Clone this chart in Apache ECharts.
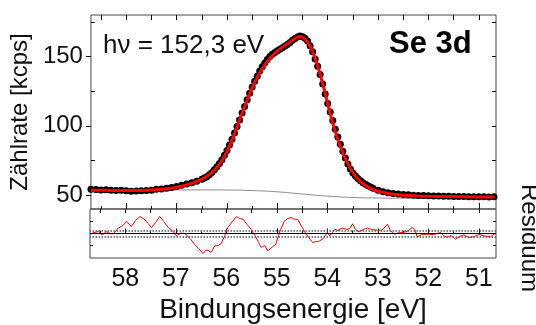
<!DOCTYPE html>
<html>
<head>
<meta charset="utf-8">
<script src="https://cdn.jsdelivr.net/npm/echarts@6/dist/echarts.min.js"></script>
<style>
  html, body { margin: 0; padding: 0; background: #fff; }
  #chart { width: 536px; height: 325px; }
</style>
</head>
<body>
<div id="chart"></div>
<script>
// measured spectrum (black dots)
const dataE = [58.70, 58.60, 58.50, 58.40, 58.30, 58.20, 58.10, 58.00, 57.90, 57.80, 57.70, 57.60, 57.50, 57.40, 57.30, 57.20, 57.10, 57.00, 56.90, 56.80, 56.70, 56.60, 56.50, 56.45, 56.40, 56.35, 56.30, 56.25, 56.20, 56.15, 56.10, 56.05, 56.00, 55.95, 55.90, 55.85, 55.80, 55.75, 55.70, 55.65, 55.60, 55.55, 55.50, 55.45, 55.40, 55.35, 55.30, 55.25, 55.20, 55.15, 55.10, 55.05, 55.00, 54.95, 54.90, 54.85, 54.80, 54.75, 54.70, 54.65, 54.60, 54.55, 54.50, 54.45, 54.40, 54.35, 54.30, 54.25, 54.20, 54.15, 54.10, 54.05, 54.00, 53.95, 53.90, 53.85, 53.80, 53.75, 53.70, 53.65, 53.60, 53.55, 53.50, 53.45, 53.40, 53.35, 53.30, 53.25, 53.20, 53.15, 53.10, 53.00, 52.90, 52.80, 52.70, 52.60, 52.50, 52.40, 52.30, 52.20, 52.10, 52.00, 51.90, 51.80, 51.70, 51.60, 51.50, 51.40, 51.30, 51.20, 51.10, 51.00, 50.90, 50.80, 50.70];
const dataCounts = [54.2, 54.0, 53.8, 53.9, 53.5, 53.4, 53.6, 53.1, 52.8, 53.0, 53.2, 53.3, 53.6, 54.2, 54.5, 55.0, 55.6, 56.3, 57.2, 58.0, 59.0, 60.0, 61.5, 62.4, 63.3, 64.8, 66.3, 68.3, 70.5, 72.8, 75.5, 78.8, 82.3, 86.2, 90.3, 94.8, 99.5, 104.3, 109.2, 114.0, 118.8, 123.5, 128.0, 132.2, 135.8, 139.5, 142.6, 145.4, 147.8, 150.0, 151.6, 153.0, 154.2, 155.2, 156.4, 157.6, 158.8, 160.2, 161.7, 163.0, 164.2, 164.8, 164.3, 163.2, 161.2, 157.8, 153.4, 148.2, 143.0, 137.0, 130.2, 123.0, 116.2, 110.0, 103.8, 97.6, 92.0, 86.8, 81.6, 76.8, 72.4, 68.8, 66.0, 63.8, 62.0, 60.4, 59.0, 57.8, 56.8, 55.8, 55.0, 53.6, 52.5, 51.8, 51.2, 50.8, 50.5, 50.2, 50.0, 49.8, 49.7, 49.5, 49.4, 49.3, 49.2, 49.2, 49.1, 49.0, 49.0, 48.9, 48.9, 48.8, 48.8, 48.7, 48.8];

// fit (red line)
const fitE = [58.70, 58.50, 58.30, 58.10, 57.90, 57.70, 57.50, 57.30, 57.10, 56.90, 56.70, 56.50, 56.40, 56.30, 56.20, 56.10, 56.00, 55.90, 55.80, 55.70, 55.60, 55.50, 55.40, 55.30, 55.20, 55.10, 55.00, 54.90, 54.80, 54.70, 54.60, 54.55, 54.50, 54.40, 54.30, 54.20, 54.10, 54.00, 53.90, 53.80, 53.70, 53.60, 53.50, 53.40, 53.30, 53.20, 53.10, 53.00, 52.80, 52.60, 52.40, 52.20, 52.00, 51.60, 51.20, 50.70];
const fitCounts = [53.6, 53.5, 53.4, 53.3, 53.3, 53.4, 53.7, 54.2, 55.0, 56.4, 58.5, 61.5, 63.6, 66.4, 70.0, 75.0, 81.6, 89.8, 99.2, 109.0, 118.6, 127.4, 135.0, 141.2, 146.4, 150.6, 154.0, 156.8, 159.2, 161.8, 164.0, 164.4, 163.8, 160.6, 153.6, 143.4, 130.4, 116.0, 102.0, 90.2, 80.6, 72.6, 66.2, 61.6, 58.2, 55.8, 54.0, 52.8, 51.2, 50.3, 49.7, 49.4, 49.2, 49.0, 48.8, 48.7];

// background (grey line)
const bgE = [58.70, 58.00, 57.00, 56.50, 56.00, 55.50, 55.00, 54.50, 54.00, 53.50, 53.00, 52.50, 51.50, 50.70];
const bgCounts = [53.6, 53.7, 53.8, 53.8, 53.7, 53.3, 52.4, 50.8, 49.3, 48.3, 47.9, 47.8, 47.7, 47.7];

// residual (lower panel)
const resE = [58.70, 58.62, 58.53, 58.48, 58.43, 58.38, 58.34, 58.29, 58.24, 58.14, 58.05, 57.97, 57.88, 57.80, 57.71, 57.61, 57.55, 57.48, 57.40, 57.32, 57.24, 57.15, 57.07, 56.99, 56.90, 56.82, 56.72, 56.63, 56.55, 56.46, 56.41, 56.36, 56.30, 56.23, 56.16, 56.10, 56.03, 55.97, 55.88, 55.80, 55.74, 55.67, 55.59, 55.51, 55.46, 55.41, 55.36, 55.31, 55.24, 55.18, 55.10, 55.02, 54.94, 54.85, 54.78, 54.72, 54.65, 54.59, 54.52, 54.46, 54.37, 54.29, 54.22, 54.16, 54.08, 54.00, 53.95, 53.90, 53.85, 53.80, 53.70, 53.60, 53.55, 53.50, 53.44, 53.37, 53.29, 53.21, 53.11, 53.01, 52.91, 52.81, 52.75, 52.68, 52.60, 52.52, 52.42, 52.32, 52.27, 52.22, 52.12, 52.02, 51.89, 51.76, 51.70, 51.63, 51.55, 51.46, 51.38, 51.30, 51.20, 51.10, 51.00, 50.90, 50.77, 50.68];
const resValues = [-0.7, 1.0, 2.0, -1.0, -0.5, 2.0, 1.0, -0.3, -0.3, 5.3, 8.0, 12.0, 7.0, 13.0, 17.0, 13.7, 10.0, 6.0, 11.0, 17.0, 12.0, 6.0, 3.0, -2.3, 0.5, 0.0, -5.0, -10.7, -15.0, -20.0, -17.0, -16.7, -19.0, -12.3, -12.0, -10.0, -2.0, 6.0, 12.0, 17.0, 15.0, 14.3, 9.0, 4.3, 0.0, -4.0, -9.0, -14.0, -12.0, -17.3, -14.0, -10.7, 2.0, 12.7, 15.0, 16.0, 14.3, 14.3, 8.0, 2.7, -4.0, -9.0, -8.0, -7.7, -5.0, 1.0, -2.3, 1.0, 4.3, 3.0, 5.3, 4.0, 5.3, 9.7, 4.0, 1.7, 4.0, 5.3, 4.0, 3.3, 3.5, 9.3, 3.0, -0.7, 0.5, 1.0, 2.0, 6.0, 4.0, -3.3, -1.0, -0.7, -1.0, 1.0, -2.0, -4.0, -2.0, -5.7, -3.0, -1.3, -4.0, -3.3, -1.0, -2.3, -3.3, 0.0];

// axis ticks
const energyMajor = [51, 52, 53, 54, 55, 56, 57, 58];
const energyMinor = [51.5, 52.5, 53.5, 54.5, 55.5, 56.5, 57.5, 58.5];
const countMajor = [50, 100, 150];
const countMinor = [75, 125, 175];
const resTicks = [-12, 0, 12];

const E_MIN = 50.66, E_MAX = 58.7;
const C_MIN = 40, C_MAX = 180;
const R_MIN = -24.5, R_MAX = 24.5;

const FONT = 'Liberation Sans';

function zip(xs, ys) {
  return xs.map((x, i) => [x, ys[i]]);
}

// axis that only draws ticks
function tickAxis(gridIndex, position, min, max, values, length, inverse) {
  return {
    type: 'value',
    gridIndex: gridIndex,
    position: position,
    offset: 0,
    min: min,
    max: max,
    inverse: !!inverse,
    axisLine: { show: false },
    splitLine: { show: false },
    axisLabel: { show: false },
    axisTick: {
      show: true,
      inside: length > 0,
      length: Math.abs(length),
      customValues: values,
      lineStyle: { color: '#111', width: 1 }
    }
  };
}

const chart = echarts.init(document.getElementById('chart'), null, { renderer: 'canvas' });

const xMain = tickAxis(0, 'bottom', E_MIN, E_MAX, energyMajor, 6, true);
const xRes = tickAxis(1, 'bottom', E_MIN, E_MAX, energyMajor, 5, true);
xRes.axisLabel = {
  show: true,
  customValues: energyMajor,
  margin: 9,
  fontFamily: FONT,
  fontSize: 25,
  color: '#111'
};
xRes.name = 'Bindungsenergie [eV]';
xRes.nameLocation = 'middle';
xRes.nameGap = 38;
xRes.nameTextStyle = { fontFamily: FONT, fontSize: 28, color: '#111' };

const yMain = tickAxis(0, 'left', C_MIN, C_MAX, countMajor, -5);
yMain.axisLabel = {
  show: true,
  customValues: countMajor,
  margin: 8,
  fontFamily: FONT,
  fontSize: 24,
  color: '#111'
};
yMain.name = 'Zählrate [kcps]';
yMain.nameLocation = 'middle';
yMain.nameGap = 52;
yMain.nameTextStyle = { fontFamily: FONT, fontSize: 24, color: '#111' };

const yRes = tickAxis(1, 'left', R_MIN, R_MAX, resTicks, 3);

const option = {
  animation: false,
  backgroundColor: '#fff',
  textStyle: { fontFamily: FONT },
  grid: [
    { left: 90, right: 40, top: 15, height: 194, show: true, borderColor: '#444', borderWidth: 1, backgroundColor: 'transparent' },
    { left: 90, right: 40, top: 209, height: 49, show: true, borderColor: '#444', borderWidth: 1, backgroundColor: 'transparent' }
  ],
  xAxis: [
    xMain,                                                                   // 0
    tickAxis(0, 'bottom', E_MIN, E_MAX, energyMinor, 3, true),               // 1
    tickAxis(0, 'top', E_MIN, E_MAX, energyMajor.concat(energyMinor), 5, true), // 2
    xRes,                                                                    // 3
    tickAxis(1, 'bottom', E_MIN, E_MAX, energyMinor, 3, true),               // 4
    tickAxis(1, 'top', E_MIN, E_MAX, energyMajor.concat(energyMinor), 4, true)  // 5
  ],
  yAxis: [
    yMain,                                                                   // 0
    tickAxis(0, 'left', C_MIN, C_MAX, countMinor, 4),                        // 1
    tickAxis(0, 'right', C_MIN, C_MAX, countMajor.concat(countMinor), 4),    // 2
    yRes,                                                                    // 3
    tickAxis(1, 'right', R_MIN, R_MAX, resTicks, 3)                          // 4
  ],
  graphic: [
    {
      type: 'text',
      left: 103,
      top: 33,
      style: { text: 'hν = 152,3 eV', font: '26px "Liberation Sans"', fill: '#111' }
    },
    {
      type: 'text',
      left: 389,
      top: 29,
      style: { text: 'Se 3d', font: 'bold 31px "Liberation Sans"', fill: '#000' }
    },
    {
      type: 'text',
      x: 529,
      y: 238,
      rotation: -Math.PI / 2,
      style: { text: 'Residuum', font: '24px "Liberation Sans"', fill: '#111', align: 'center', verticalAlign: 'middle' }
    }
  ],
  series: [
    {
      name: 'Untergrund',
      type: 'line',
      xAxisIndex: 0,
      yAxisIndex: 0,
      data: zip(bgE, bgCounts),
      smooth: true,
      showSymbol: false,
      lineStyle: { color: '#8a8a8a', width: 1 },
      z: 2
    },
    {
      name: 'Messung',
      type: 'scatter',
      xAxisIndex: 0,
      yAxisIndex: 0,
      data: zip(dataE, dataCounts),
      symbol: 'circle',
      symbolSize: 7,
      itemStyle: { color: '#000', opacity: 1 },
      z: 3
    },
    {
      name: 'Fit',
      type: 'line',
      xAxisIndex: 0,
      yAxisIndex: 0,
      data: zip(fitE, fitCounts),
      smooth: 0.3,
      showSymbol: false,
      lineStyle: { color: '#ff0000', width: 3 },
      z: 4
    },
    {
      name: 'Residuum',
      type: 'line',
      xAxisIndex: 3,
      yAxisIndex: 3,
      data: zip(resE, resValues),
      showSymbol: false,
      lineStyle: { color: '#ff0000', width: 1 },
      markLine: {
        silent: true,
        symbol: 'none',
        label: { show: false },
        data: [
          { yAxis: 0, lineStyle: { color: '#000', width: 1.2, type: 'solid' } },
          { yAxis: 3, lineStyle: { color: '#555', width: 1.5, type: 'dotted' } },
          { yAxis: -3, lineStyle: { color: '#555', width: 1.5, type: 'dotted' } }
        ]
      },
      z: 3
    }
  ]
};

chart.setOption(option);
</script>
</body>
</html>
